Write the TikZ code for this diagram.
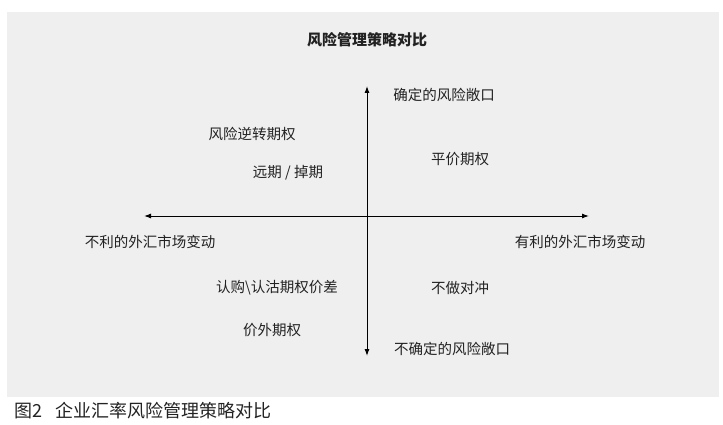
\documentclass[tikz,border=0pt]{standalone}
\usepackage{fontspec}
\setmainfont{Noto Sans CJK SC}
\usepackage{xcolor}
\definecolor{rkgray}{HTML}{EFEFEF}
\definecolor{rkdark}{HTML}{222222}
\usetikzlibrary{arrows.meta,positioning}

\begin{document}
\begin{tikzpicture}[x=1pt,y=-1pt,>={Latex[length=7pt,width=5pt]}]
\tikzset{
 lbl/.style={text=rkdark,font=\fontsize{14.5}{16}\selectfont,inner sep=0pt},
 ttl/.style={lbl,font=\fontsize{15}{17}\selectfont\bfseries},
 ax/.style={->,line width=1pt,draw=black}
}
\useasboundingbox (0,0) rectangle (723,425);
\fill[rkgray] (7,12) rectangle (719,397);
\node[ttl] (title) at (367,40) {风险管理策略对比};
% axes
\coordinate (top) at (367,86);
\coordinate (bot) at (367,356);
\coordinate (lft) at (144,216);
\coordinate (rgt) at (589,216);
\coordinate (o) at (367,216);
\draw[ax] (o) -- (top);
\draw[ax] (o) -- (bot);
\draw[ax] (o) -- (lft);
\draw[ax] (o) -- (rgt);
% axis labels
\node[lbl] (sure) at (444,95) {确定的风险敞口};
\node[lbl] (unsure) at (452,349) {不确定的风险敞口};
\node[lbl] (bad) at (150,242) {不利的外汇市场变动};
\node[lbl] (good) at (580,242) {有利的外汇市场变动};
% strategies
\node[lbl] (rr) at (252,134) {风险逆转期权};
\node[lbl] (fwd) at (288,173) {远期 / 掉期};
\node[lbl] (atm) at (460,159) {平价期权};
\node[lbl] (spread) at (277,288) {认购\textbackslash 认沽期权价差};
\node[lbl] (none) at (460,288) {不做对冲};
\node[lbl] (otm) at (272,330) {价外期权};
\node[lbl,anchor=west,font=\fontsize{18}{20}\selectfont] (cap) at (14,411) {图2\hspace{0.75em}企业汇率风险管理策略对比};
\end{tikzpicture}
\end{document}
